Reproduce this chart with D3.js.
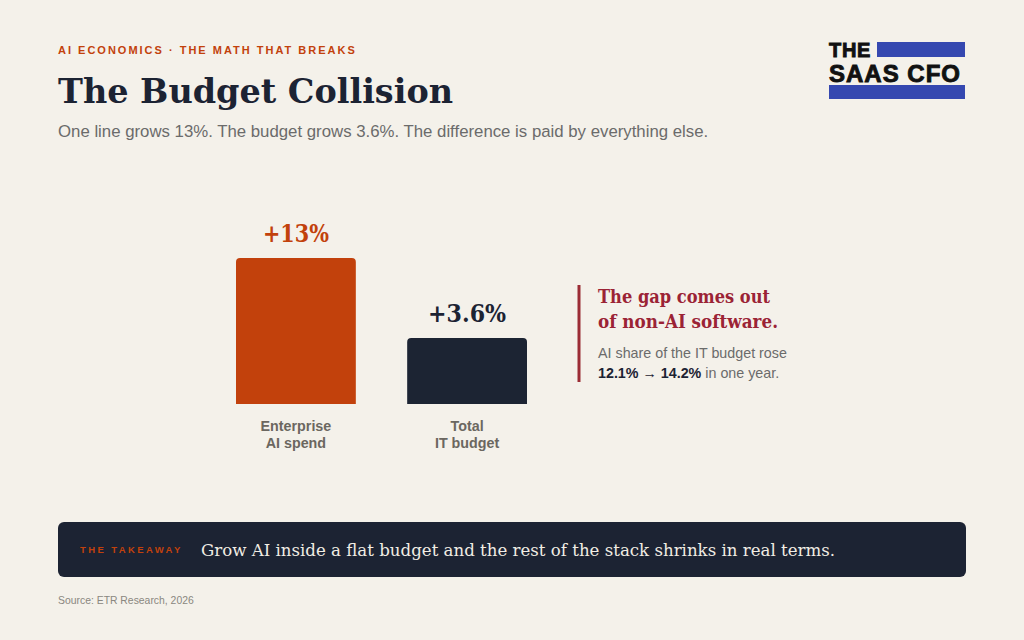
<!DOCTYPE html>
<html>
<head>
<meta charset="utf-8">
<script src="https://cdn.jsdelivr.net/npm/d3@7"></script>
<style>
  html, body { margin: 0; padding: 0; background: #f4f1ea; }
  .serif { font-family: "DejaVu Serif", "Liberation Serif", serif; }
  .sans { font-family: "Liberation Sans", Arial, sans-serif; }
</style>
</head>
<body>
<div class="viz"></div>
<script>
// chart data
const categories = ["Enterprise\nAI spend", "Total\nIT budget"];
const growth = [13, 3.6];
const valueLabels = ["+13%", "+3.6%"];
const barColors = ["#c2410c", "#1c2433"];

const W = 1024, H = 640;
const svg = d3.select(".viz").append("svg")
  .attr("width", W).attr("height", H)
  .attr("viewBox", `0 0 ${W} ${H}`);

svg.append("rect").attr("width", W).attr("height", H).attr("fill", "#f4f1ea");

// squeeze the wide fallback serif to the width of the original face
function fit(sel, w) {
  sel.attr("textLength", w).attr("lengthAdjust", "spacingAndGlyphs");
  return sel;
}

// header
svg.append("text").attr("class", "sans")
  .attr("x", 58).attr("y", 54)
  .attr("font-size", 11).attr("font-weight", 700)
  .attr("letter-spacing", 2).attr("fill", "#c2410c")
  .text("AI ECONOMICS · THE MATH THAT BREAKS");

fit(svg.append("text").attr("class", "serif")
  .attr("x", 58).attr("y", 103)
  .attr("font-size", 33).attr("font-weight", 700)
  .attr("fill", "#1c2333")
  .text("The Budget Collision"), 395);

svg.append("text").attr("class", "sans")
  .attr("x", 58).attr("y", 137)
  .attr("font-size", 16.8).attr("fill", "#6b6b6b")
  .text("One line grows 13%. The budget grows 3.6%. The difference is paid by everything else.");

// logo
const logo = svg.append("g");
logo.append("rect").attr("x", 877).attr("y", 42).attr("width", 88).attr("height", 15).attr("fill", "#3548b0");
logo.append("rect").attr("x", 829).attr("y", 85).attr("width", 136).attr("height", 14).attr("fill", "#3548b0");
logo.append("text").attr("class", "sans")
  .attr("x", 829).attr("y", 56.5)
  .attr("font-size", 20).attr("font-weight", 700).attr("fill", "#111")
  .attr("stroke", "#111").attr("stroke-width", 0.9).attr("letter-spacing", 0.7)
  .text("THE");
logo.append("text").attr("class", "sans")
  .attr("x", 829).attr("y", 81.5)
  .attr("font-size", 24).attr("font-weight", 700).attr("fill", "#111")
  .attr("stroke", "#111").attr("stroke-width", 0.9).attr("letter-spacing", 1)
  .text("SAAS CFO");

// bars
const chartBottom = 404;
const x = d3.scaleBand()
  .domain(categories)
  .range([236, 527])
  .paddingInner(0.3);

const y = d3.scaleLinear()
  .domain([-4.15, 13])
  .range([chartBottom, 258]);

const bars = svg.append("g");
bars.selectAll("path")
  .data(growth)
  .enter()
  .append("path")
  .attr("d", (d, i) => {
    const x0 = x(categories[i]), w = x.bandwidth(), y0 = y(d), r = 4;
    return `M${x0},${chartBottom}V${y0 + r}Q${x0},${y0} ${x0 + r},${y0}H${x0 + w - r}Q${x0 + w},${y0} ${x0 + w},${y0 + r}V${chartBottom}Z`;
  })
  .attr("fill", (d, i) => barColors[i]);

fit(bars.selectAll(".val")
  .data(growth)
  .enter()
  .append("text")
  .attr("class", "serif val")
  .attr("x", (d, i) => x(categories[i]) + x.bandwidth() / 2)
  .attr("y", d => y(d) - 16)
  .attr("text-anchor", "middle")
  .attr("font-size", 24).attr("font-weight", 700)
  .attr("fill", (d, i) => i === 0 ? "#c2410c" : "#1c2333")
  .text((d, i) => valueLabels[i]), null)
  .attr("textLength", (d, i) => i === 0 ? 66 : 78);

// category labels
const catLabels = bars.selectAll(".cat")
  .data(categories)
  .enter()
  .append("text")
  .attr("class", "sans cat")
  .attr("text-anchor", "middle")
  .attr("font-size", 14.3).attr("font-weight", 700)
  .attr("fill", "#6b6760");
catLabels.selectAll("tspan")
  .data(d => d.split("\n").map(t => ({ t, c: d })))
  .enter()
  .append("tspan")
  .attr("x", d => x(d.c) + x.bandwidth() / 2)
  .attr("y", (d, i) => 431 + i * 17)
  .text(d => d.t);

// annotation
const ann = svg.append("g");
ann.append("line")
  .attr("x1", 579).attr("x2", 579).attr("y1", 285).attr("y2", 382)
  .attr("stroke", "#9b2c35").attr("stroke-width", 3);
const headLines = ["The gap comes out", "of non-AI software."];
const headWidths = [172, 180];
headLines.forEach((t, i) => {
  fit(ann.append("text").attr("class", "serif")
    .attr("x", 598).attr("y", 302.5 + i * 25)
    .attr("font-size", 18.5).attr("font-weight", 700).attr("fill", "#9b2335")
    .text(t), headWidths[i]);
});
ann.append("text").attr("class", "sans")
  .attr("x", 598).attr("y", 358)
  .attr("font-size", 14.3).attr("fill", "#6b6b6b")
  .text("AI share of the IT budget rose");
const l2 = ann.append("text").attr("class", "sans")
  .attr("x", 598).attr("y", 378)
  .attr("font-size", 14.3).attr("fill", "#6b6b6b");
l2.append("tspan").attr("font-weight", 700).attr("fill", "#1c2333").text("12.1% → 14.2%");
l2.append("tspan").text(" in one year.");

// takeaway
const tk = svg.append("g");
tk.append("rect")
  .attr("x", 58).attr("y", 522).attr("width", 908).attr("height", 55)
  .attr("rx", 6).attr("fill", "#1c2333");
tk.append("text").attr("class", "sans")
  .attr("x", 80).attr("y", 553)
  .attr("font-size", 9.5).attr("font-weight", 700)
  .attr("letter-spacing", 2.4).attr("fill", "#c2410c")
  .text("THE TAKEAWAY");
fit(tk.append("text").attr("class", "serif")
  .attr("x", 201).attr("y", 556)
  .attr("font-size", 17.5).attr("fill", "#f1ede4")
  .text("Grow AI inside a flat budget and the rest of the stack shrinks in real terms."), 634);

// source
svg.append("text").attr("class", "sans")
  .attr("x", 58).attr("y", 604)
  .attr("font-size", 10.4).attr("fill", "#8a8780")
  .text("Source: ETR Research, 2026");
</script>
</body>
</html>
